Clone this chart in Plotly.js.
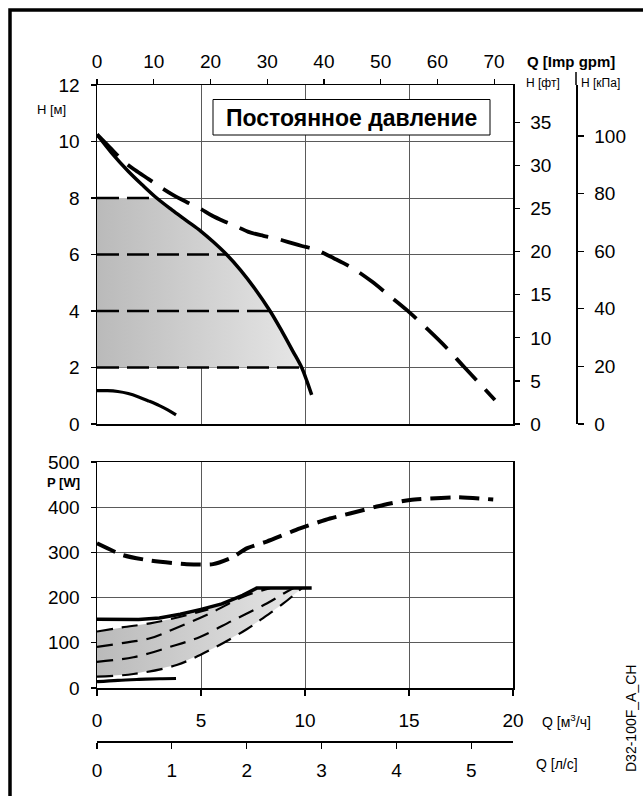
<!DOCTYPE html>
<html><head><meta charset="utf-8">
<script src="https://cdn.plot.ly/plotly-3.0.1.min.js"></script>
<style>html,body{margin:0;padding:0;background:#fff}#chart{width:643px;height:796px}</style>
</head><body><div id="chart"></div>
<script>
// ---- Head curves (Q in m3/h, H in m) ----
const hMaxQ = [0, 0.7, 1.5, 2.2, 2.87, 3.6, 4.3, 5, 5.6, 6.23, 6.9, 7.6, 8.32, 8.9, 9.4, 9.84, 10.1, 10.32];
const hMaxH = [10.25, 9.6, 8.95, 8.45, 8.0, 7.58, 7.2, 6.82, 6.44, 6.0, 5.45, 4.78, 4.0, 3.27, 2.6, 2.0, 1.5, 1.03];
const hMinQ = [0, 0.5, 1, 1.5, 2, 2.5, 3, 3.4, 3.8];
const hMinH = [1.18, 1.18, 1.15, 1.08, 0.96, 0.81, 0.65, 0.5, 0.32];
const hDashQ = [0, 0.6, 1.28, 1.83, 2.5, 3.14, 3.67, 4.3, 4.95, 5.5, 6.1, 6.75, 7.28, 8.0, 8.64, 9.2, 9.85, 10.48, 11.4, 12.32, 13.2, 14.09, 14.9, 15.93, 16.8, 17.61, 18.4, 19.13];
const hDashH = [10.25, 9.8, 9.3, 8.99, 8.66, 8.34, 8.1, 7.86, 7.63, 7.39, 7.18, 6.98, 6.8, 6.66, 6.56, 6.44, 6.3, 6.18, 5.86, 5.5, 5.05, 4.52, 4.03, 3.33, 2.7, 2.05, 1.43, 0.85];
const levelH = [8, 6, 4, 2];
const levelQ = [2.87, 6.23, 8.32, 9.84];

// ---- Power curves (Q in m3/h, P in W) ----
const pMaxQ = [0, 1, 2, 3, 4, 5, 6, 7, 7.68, 10.32];
const pMaxP = [152, 151, 151.5, 155, 163, 174, 186, 205, 221, 221];
const pMinQ = [0, 1, 2, 3, 3.8];
const pMinP = [14, 17, 19, 20.5, 21];
const pDashQ = [0, 1.25, 2.55, 4.31, 5.58, 6.55, 7.2, 8.16, 9.76, 11.2, 12.16, 13.77, 15.05, 17.3, 19.05];
const pDashP = [320, 294, 282, 274, 274, 290, 309, 324, 353, 375, 386, 405, 416, 422, 417];
const d1Q = [0, 1.2, 2.55, 3.5, 4.31, 5.35];
const d1P = [125, 134, 143, 152, 161, 174];
const d2Q = [0, 1.3, 2.55, 3.67, 5.43, 7.03, 8.32];
const d2P = [91, 100, 110, 130, 165, 202, 221];
const d3Q = [0, 1.75, 3.51, 4.95, 6.55, 8.16, 9.12, 9.45];
const d3P = [58, 68, 91, 113, 150, 187, 213, 221];
const d4Q = [0, 1.75, 3.83, 5.6, 7.2, 7.84, 8.96, 9.85];
const d4P = [25, 31, 51, 88, 130, 150, 187, 221];

// ---- Axis ticks ----
const hTicks = [0, 2, 4, 6, 8, 10, 12];
const pTicks = [0, 100, 200, 300, 400, 500];
const qTicks = [0, 5, 10, 15, 20];
const ftTicks = [0, 5, 10, 15, 20, 25, 30, 35];
const kpaTicks = [0, 20, 40, 60, 80, 100];
const gpmTicks = [0, 10, 20, 30, 40, 50, 60, 70];
const lsTicks = [0, 1, 2, 3, 4, 5];

// ---- Layout geometry (pixels) ----
const W = 643, H = 796;
const mL = 97, mR = 23, mT = 85, mB = 55;
const pw = W - mL - mR, ph = H - mT - mB;
const X0 = 97, X1 = 513;
const px = v => (v - mL) / pw;
const py = v => (H - mB - v) / ph;
const D = (X1 - X0) / pw;

const FONT = 'Liberation Sans, Arial, sans-serif';
const tf = {family: FONT, size: 19, color: '#000'};
const gridC = '#5a5a5a';
const grad = {type: 'horizontal', colorscale: [[0, '#bababa'], [1, '#e6e6e6']]};

// top shaded region
const topQ = [0, 0], topH = [2, 8];
hMaxQ.forEach((q, i) => { if (hMaxH[i] <= 8 && hMaxH[i] >= 2) { topQ.push(q); topH.push(hMaxH[i]); } });

// bottom shaded region
const botQ = d1Q.slice(), botP = d1P.slice();
pMaxQ.forEach((q, i) => { if (q > d1Q[d1Q.length - 1] && q <= 7.68) { botQ.push(q); botP.push(pMaxP[i]); } });
for (let i = d4Q.length - 1; i >= 0; i--) { botQ.push(d4Q[i]); botP.push(d4P[i]); }

// level lines
const lvX = [], lvY = [];
levelH.forEach((h, i) => { lvX.push(0, levelQ[i], null); lvY.push(h, h, null); });

const traces = [
  {x: topQ, y: topH, xaxis: 'x', yaxis: 'y', mode: 'lines', fill: 'toself', fillgradient: grad, line: {width: 0}, hoverinfo: 'skip'},
  {x: lvX, y: lvY, xaxis: 'x', yaxis: 'y', mode: 'lines', line: {color: '#000', width: 2.5, dash: '22px,8px'}},
  {x: hMaxQ, y: hMaxH, xaxis: 'x', yaxis: 'y', mode: 'lines', line: {color: '#000', width: 3.5, shape: 'spline', smoothing: 1}},
  {x: hMinQ, y: hMinH, xaxis: 'x', yaxis: 'y', mode: 'lines', line: {color: '#000', width: 3.2, shape: 'spline', smoothing: 1}},
  {x: hDashQ, y: hDashH, xaxis: 'x', yaxis: 'y', mode: 'lines', line: {color: '#000', width: 3.8, dash: '30px,13px', shape: 'spline', smoothing: 1}},

  {x: botQ, y: botP, xaxis: 'x2', yaxis: 'y2', mode: 'lines', fill: 'toself', fillgradient: grad, line: {width: 0}, hoverinfo: 'skip'},
  {x: d1Q, y: d1P, xaxis: 'x2', yaxis: 'y2', mode: 'lines', line: {color: '#000', width: 2.2, dash: '16px,9px', shape: 'spline'}},
  {x: d2Q, y: d2P, xaxis: 'x2', yaxis: 'y2', mode: 'lines', line: {color: '#000', width: 2.2, dash: '16px,9px', shape: 'spline'}},
  {x: d3Q, y: d3P, xaxis: 'x2', yaxis: 'y2', mode: 'lines', line: {color: '#000', width: 2.2, dash: '16px,9px', shape: 'spline'}},
  {x: d4Q, y: d4P, xaxis: 'x2', yaxis: 'y2', mode: 'lines', line: {color: '#000', width: 2.2, dash: '16px,9px', shape: 'spline'}},
  {x: pMaxQ, y: pMaxP, xaxis: 'x2', yaxis: 'y2', mode: 'lines', line: {color: '#000', width: 3.5}},
  {x: pMinQ, y: pMinP, xaxis: 'x2', yaxis: 'y2', mode: 'lines', line: {color: '#000', width: 3.2, shape: 'spline'}},
  {x: pDashQ, y: pDashP, xaxis: 'x2', yaxis: 'y2', mode: 'lines', line: {color: '#000', width: 4, dash: '20px,9px', shape: 'spline', smoothing: 0.6}},

  // carriers for secondary axes
  {x: [0], y: [0], xaxis: 'x3', yaxis: 'y3', mode: 'markers', marker: {opacity: 0}, hoverinfo: 'skip'},
  {x: [0], y: [0], xaxis: 'x', yaxis: 'y4', mode: 'markers', marker: {opacity: 0}, hoverinfo: 'skip'},
  {x: [0], y: [0], xaxis: 'x4', yaxis: 'y2', mode: 'markers', marker: {opacity: 0}, hoverinfo: 'skip'}
];

const baseAx = {showline: true, linecolor: '#000', linewidth: 1.5, zeroline: false, fixedrange: true, tickcolor: '#000', tickfont: tf, tickwidth: 1.2};

function ann(text, x, y, size, extra) {
  return Object.assign({text: text, xref: 'paper', yref: 'paper', x: px(x), y: py(y), xanchor: 'center', yanchor: 'middle', showarrow: false, font: {family: FONT, size: size, color: '#000'}}, extra || {});
}

const layout = {
  width: W, height: H, showlegend: false,
  margin: {l: mL, r: mR, t: mT, b: mB, pad: 0},
  paper_bgcolor: '#fff', plot_bgcolor: '#fff',
  font: {family: FONT, color: '#000'},
  xaxis: Object.assign({}, baseAx, {domain: [0, D], range: [0, 20], anchor: 'y', tickvals: qTicks, showgrid: true, gridcolor: gridC, gridwidth: 1, showticklabels: false, ticks: ''}),
  yaxis: Object.assign({}, baseAx, {domain: [py(424), 1], range: [0, 12], anchor: 'x', tickvals: hTicks, showgrid: true, gridcolor: gridC, gridwidth: 1, ticks: 'outside', ticklen: 5, ticklabelstandoff: 7}),
  xaxis2: Object.assign({}, baseAx, {domain: [0, D], range: [0, 20], anchor: 'y2', tickvals: qTicks, showgrid: true, gridcolor: gridC, gridwidth: 1, ticks: 'outside', ticklen: 6, mirror: true, ticklabelstandoff: 9}),
  yaxis2: Object.assign({}, baseAx, {domain: [py(688), py(462)], range: [0, 500], anchor: 'x2', tickvals: pTicks, showgrid: true, gridcolor: gridC, gridwidth: 1, ticks: 'outside', ticklen: 5, mirror: true, ticklabelstandoff: 7}),
  xaxis3: Object.assign({}, baseAx, {overlaying: 'x', side: 'top', anchor: 'y', range: [0, 73.33], tickvals: gpmTicks, showgrid: false, ticks: 'outside', ticklen: 5, ticklabelstandoff: 3}),
  yaxis3: Object.assign({}, baseAx, {overlaying: 'y', side: 'right', anchor: 'x', range: [0, 39.37], tickvals: ftTicks, showgrid: false, ticks: 'outside', ticklen: 5, ticklabelstandoff: 7}),
  yaxis4: Object.assign({}, baseAx, {overlaying: 'y', side: 'right', anchor: 'free', position: px(576), range: [0, 117.68], tickvals: kpaTicks, showgrid: false, ticks: 'outside', ticklen: 6, ticklabelstandoff: 7}),
  xaxis4: Object.assign({}, baseAx, {overlaying: 'x2', side: 'bottom', anchor: 'free', position: 0, range: [0, 5.5556], tickvals: lsTicks, showgrid: false, ticks: 'outside', ticklen: 6, ticklabelstandoff: 6}),
  shapes: [
    {type: 'path', xref: 'paper', yref: 'paper',
     path: 'M ' + px(10) + ',' + py(900) + ' L ' + px(10) + ',' + py(10) + ' L ' + px(900) + ',' + py(10),
     line: {color: '#000', width: 3.5}},
    {type: 'rect', xref: 'paper', yref: 'paper', x0: px(213), x1: px(490), y0: py(135), y1: py(99.5), line: {color: '#000', width: 1}, fillcolor: '#fff', layer: 'above'},
    {type: 'line', xref: 'paper', yref: 'paper', x0: px(576), x1: px(576), y0: py(85), y1: py(72), line: {color: '#000', width: 1.5}}
  ],
  annotations: [
    ann('<b>Постоянное давление</b>', 351.5, 117.5, 23),
    ann('H [м]', 51, 110, 13),
    ann('<b>P [W]</b>', 63, 482, 13),
    ann('<b>Q [Imp gpm]</b>', 571, 62, 15),
    ann('H [фт]', 543, 83, 12),
    ann('H [кПа]', 600, 83, 12),
    ann('Q [м<sup>3</sup>/ч]', 566, 721, 14),
    ann('Q [л/с]', 557, 764, 14),
    ann('D32-100F_A_CH', 631, 719, 14, {textangle: -90})
  ]
};

Plotly.newPlot('chart', traces, layout, {staticPlot: true, displayModeBar: false});
</script>
</body></html>
